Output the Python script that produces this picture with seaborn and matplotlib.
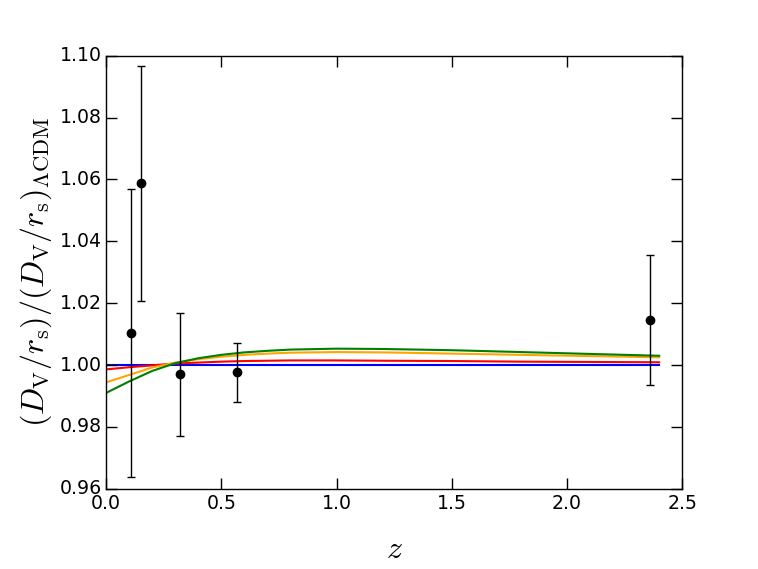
import numpy as np
import pandas as pd
import seaborn as sns
import matplotlib.pyplot as plt

# BAO measurements
z_data = [0.106, 0.15, 0.32, 0.57, 2.36]
ratio_data = [1.0103, 1.0587, 0.9970, 0.9976, 1.0145]
ratio_err = [0.0465, 0.0380, 0.0198, 0.0094, 0.0211]

# model curves
z_model = [0.0, 0.1, 0.2, 0.3, 0.4, 0.5, 0.6, 0.7, 0.8, 1.0, 1.2, 1.5, 1.8, 2.1, 2.4]
blue = [1.0] * len(z_model)
red = [0.9986, 0.9993, 0.9999, 1.0005, 1.0008, 1.0011, 1.0013, 1.0014, 1.0015,
       1.0015, 1.0014, 1.0013, 1.0011, 1.0010, 1.0009]
orange = [0.9944, 0.9968, 0.9992, 1.0008, 1.0019, 1.0027, 1.0033, 1.0037, 1.0040,
          1.0042, 1.0041, 1.0037, 1.0033, 1.0029, 1.0025]
green = [0.9910, 0.9947, 0.9981, 1.0006, 1.0022, 1.0033, 1.0041, 1.0046, 1.0050,
         1.0053, 1.0052, 1.0048, 1.0042, 1.0036, 1.0030]

models = pd.concat([
    pd.DataFrame({"z": z_model, "ratio": blue, "model": "blue"}),
    pd.DataFrame({"z": z_model, "ratio": red, "model": "red"}),
    pd.DataFrame({"z": z_model, "ratio": orange, "model": "orange"}),
    pd.DataFrame({"z": z_model, "ratio": green, "model": "green"}),
])
palette = {"blue": "blue", "red": "red", "orange": "orange", "green": "green"}

plt.style.use("classic")
plt.rcParams["mathtext.fontset"] = "cm"
plt.rcParams["font.family"] = ["DejaVu Sans"]

fig = plt.figure(figsize=(7.58, 5.69), dpi=100, facecolor="white")
ax = fig.add_axes([0.140, 0.141, 0.760, 0.761])

sns.lineplot(data=models, x="z", y="ratio", hue="model", palette=palette,
             linewidth=1.5, legend=False, ax=ax)
ax.errorbar(z_data, ratio_data, yerr=ratio_err, fmt="o", color="black",
            markersize=6, capsize=3, elinewidth=1, markeredgewidth=1)

ax.set_xlim(0.0, 2.5)
ax.set_ylim(0.96, 1.10)
ax.set_xticks([0.0, 0.5, 1.0, 1.5, 2.0, 2.5])
ax.set_yticks([0.96, 0.98, 1.00, 1.02, 1.04, 1.06, 1.08, 1.10])
ax.xaxis.set_major_formatter(plt.FormatStrFormatter("%.1f"))
ax.yaxis.set_major_formatter(plt.FormatStrFormatter("%.2f"))
ax.tick_params(direction="in", length=8, width=1, labelsize=13.6,
               top=True, right=True)
ax.tick_params(axis="y", pad=3)
ax.set_xlabel(r"$z$", fontsize=23, labelpad=15)
ax.set_ylabel(r"$(D_{\rm V}/r_{\rm s})/(D_{\rm V}/r_{\rm s})_{\Lambda{\rm CDM}}$",
              fontsize=23, labelpad=4)

fig.savefig("out.png", dpi=100, facecolor="white")
